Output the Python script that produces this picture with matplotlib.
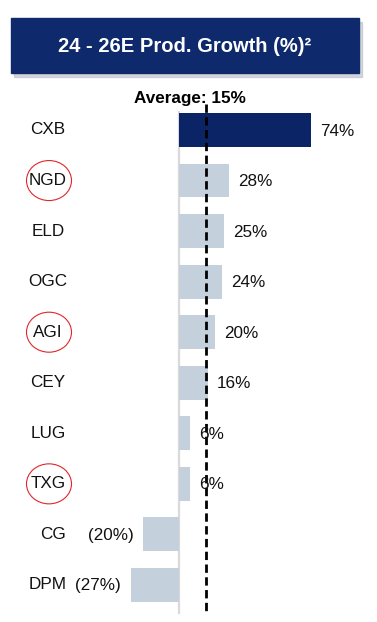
import matplotlib
matplotlib.use("Agg")
import matplotlib.pyplot as plt
from matplotlib.patches import Rectangle, Ellipse

plt.rcParams['font.family'] = ['Liberation Sans', 'DejaVu Sans']

tickers = ["CXB", "NGD", "ELD", "OGC", "AGI", "CEY", "LUG", "TXG", "CG", "DPM"]
growth = [74, 28, 25, 24, 20, 16, 6, 6, -20, -27]
circled = ["NGD", "AGI", "TXG"]
highlight = "CXB"
average = 15

title = "24 - 26E Prod. Growth (%)²"

navy = "#0B2466"
light = "#C5D0DD"

W, H = 377, 622
fig = plt.figure(figsize=(W / 100, H / 100), dpi=100)
ax = fig.add_axes([0, 0, 1, 1])

# pixel layout: zero at x=179, 1.784 px per %, first row at y=130, 50.55 px per row
px_per = 1.784
x_zero = 179
ax.set_xlim(-x_zero / px_per, (W - x_zero) / px_per)
row0, step = 130, 50.55
ax.set_ylim((H - row0) / step, -row0 / step)
ax.axis("off")

ypos = list(range(len(tickers)))
colors = [navy if t == highlight else light for t in tickers]
ax.barh(ypos, growth, height=0.67, color=colors, zorder=2)

# zero axis line
ax.plot([0, 0], [-0.36, 9.55], color="#DADADA", lw=1.6, zorder=1)

# average line
ax.plot([average, average], [-0.52, 9.55], color="black", lw=2,
        linestyle=(0, (3, 1.6)), zorder=3)
ax.text(average - 9, -0.63, "Average: 15%", ha="center", va="center",
        fontsize=12.3, fontweight="bold", color="black")

for y, v in zip(ypos, growth):
    if v >= 0:
        ax.text(v + 5.3, y + 0.02, "%d%%" % v, ha="left", va="center",
                fontsize=12.3, color="#111111", zorder=4)
    else:
        ax.text(v - 5.5, y + 0.02, "(%d%%)" % abs(v), ha="right", va="center",
                fontsize=12.3, color="#111111", zorder=4)

label_x = {"CG": 53}
for y, t in zip(ypos, tickers):
    lx = label_x.get(t, 48)
    ax.text(lx / W, 1 - (row0 + step * y) / H, t, transform=ax.transAxes,
            ha="center", va="center", fontsize=12.3, color="#111111")
    if t in circled:
        ax.add_patch(Ellipse((49 / W, 1 - (row0 + step * y) / H), 45 / W, 40 / H,
                             transform=ax.transAxes, fill=False,
                             edgecolor="#E0262B", lw=0.8))

# title banner with shadow
fig.patches.append(Rectangle((14 / W, 1 - 77 / H), 348 / W, 55 / H,
                             transform=fig.transFigure, color="#B8BCC6",
                             alpha=0.6, zorder=0))
fig.patches.append(Rectangle((11 / W, 1 - 73 / H), 348 / W, 55 / H,
                             transform=fig.transFigure, color="#0E2A6C", zorder=1))
fig.text(185 / W, 1 - 46 / H, title, ha="center", va="center",
         fontsize=14.5, fontweight="bold", color="white", zorder=2)

fig.savefig("out.png", dpi=100, facecolor="white")
